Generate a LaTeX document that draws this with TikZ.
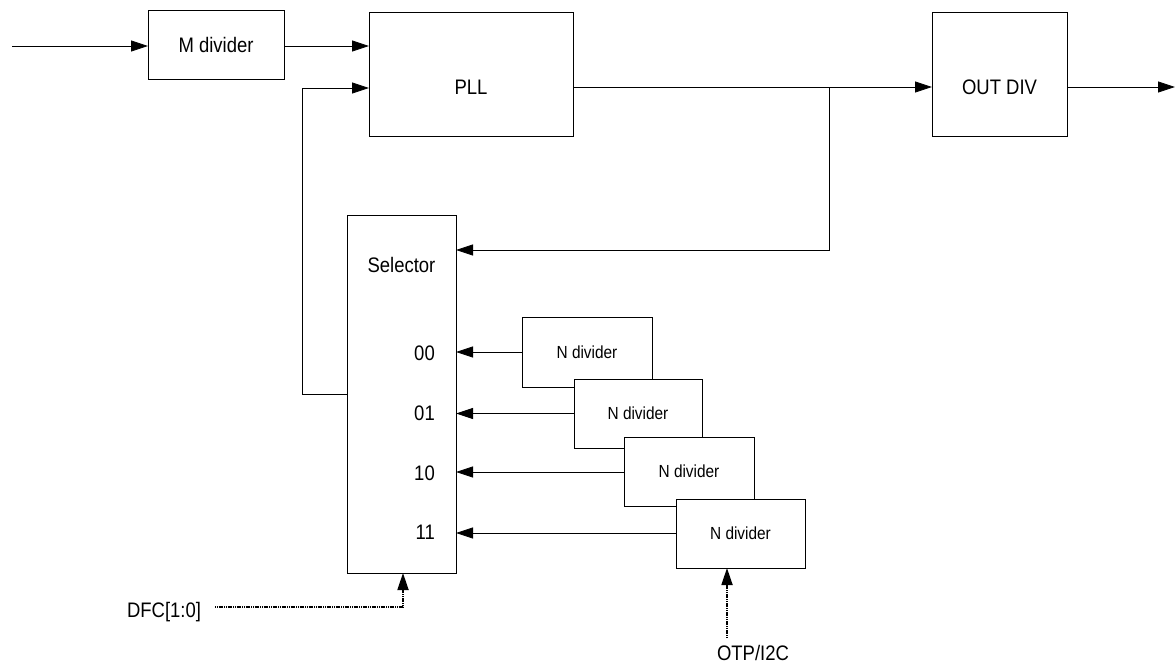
\documentclass[tikz,border=0pt]{standalone}
\usepackage{fontspec}
\setmainfont{Liberation Sans}[FakeStretch=0.88]
\usetikzlibrary{arrows.meta}
\tikzset{
  box/.style={draw, fill=white, line width=0.8pt, inner sep=0pt, outer sep=0pt},
  lbl/.style={inner sep=0pt, font=\fontsize{21}{24}\selectfont},
  slbl/.style={inner sep=0pt, font=\fontsize{17.5}{20}\selectfont},
  arr/.style={-{Triangle[length=17pt,width=11pt]}, line width=0.8pt},
  ctrl/.style={-{Triangle[length=17pt,width=11pt]}, line width=1.8pt, dash pattern=on 1.2pt off 0.6pt},
}
\begin{document}
\begin{tikzpicture}[x=1pt,y=-1pt]
\useasboundingbox (0,0) rectangle (1175,665);
% boxes
\node[box, minimum width=136pt, minimum height=69pt] (md) at (216,44.5) {};
\node[lbl] (mdt) at (216,44.5) {M divider};
\node[box, minimum width=204pt, minimum height=124pt] (pll) at (471,74) {};
\node[lbl] (pllt) at (471,87) {PLL};
\node[box, minimum width=135pt, minimum height=124pt] (od) at (999.5,74) {};
\node[lbl] (odt) at (999.5,87) {OUT DIV};
\node[box, minimum width=109pt, minimum height=358pt] (sel) at (401.5,394) {};
\node[lbl] (selt) at (401.5,265) {Selector};
\node[lbl, anchor=east] (s00) at (435,353) {00};
\node[lbl, anchor=east] (s01) at (435,413) {01};
\node[lbl, anchor=east] (s10) at (435,473) {10};
\node[lbl, anchor=east] (s11) at (435,532) {11};
% N dividers
\node[box, minimum width=130pt, minimum height=70pt] (n1) at (587,352) {};
\node[slbl] (n1t) at (587,352) {N divider};
\node[box, minimum width=128pt, minimum height=69pt] (n2) at (638,413.5) {};
\node[slbl] (n2t) at (638,413.5) {N divider};
\node[box, minimum width=130pt, minimum height=69pt] (n3) at (689,471.5) {};
\node[slbl] (n3t) at (689,471.5) {N divider};
\node[box, minimum width=129pt, minimum height=69pt] (n4) at (740.5,533.5) {};
\node[slbl] (n4t) at (740.5,533.5) {N divider};
% labels
\node[lbl] (dfc) at (164,612) {DFC[1:0]};
\node[lbl] (otp) at (753,653) {OTP/I2C};
% coordinates
\coordinate (in) at (12,46);
\coordinate (out) at (1175,87);
\coordinate (br) at (829,87);
\coordinate (brd) at (829,250);
\coordinate (fb) at (302,394);
\coordinate (fbt) at (302,88);
\coordinate (dfcs) at (215,607);
\coordinate (dfcc) at (403,607);
\coordinate (otps) at (727,638);
% connectors
\draw[arr] (in) -- (in -| md.west);
\draw[arr] (md.east |- in) -- (in -| pll.west);
\draw[arr] (pll.east |- br) -- (br -| od.west);
\draw[arr] (od.east |- out) -- (out);
\draw[arr] (br) -- (brd) -- (brd -| sel.east);
\draw[arr] (sel.west |- fb) -- (fb) -- (fbt) -- (fbt -| pll.west);
\draw[arr] (n1.west) -- (n1.west -| sel.east);
\draw[arr] (n2.west) -- (n2.west -| sel.east);
\draw[arr] (n3.west |- 0,472) -- (sel.east |- 0,472);
\draw[arr] (n4.west |- 0,533) -- (sel.east |- 0,533);
\draw[ctrl] (dfcs) -- (dfcc) -- (dfcc |- sel.south);
\draw[ctrl] (otps) -- (otps |- n4.south);
\end{tikzpicture}
\end{document}
